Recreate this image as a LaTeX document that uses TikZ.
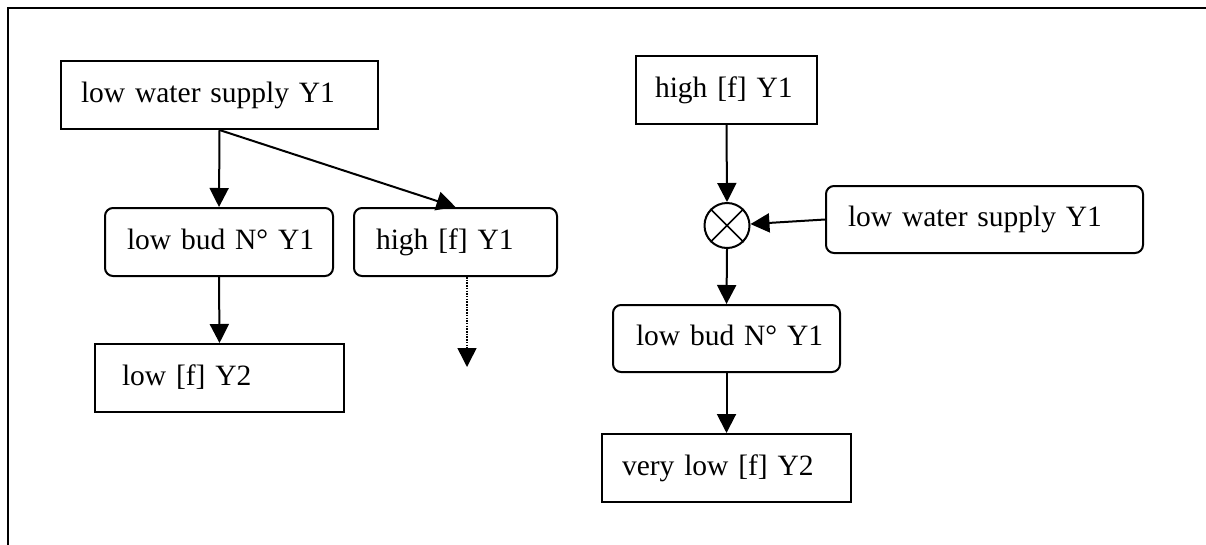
\documentclass[tikz,border=0pt]{standalone}
\usepackage{fontspec}
\setmainfont{Liberation Serif}
\usetikzlibrary{arrows.meta}
\tikzset{
  bx/.style={draw, line width=2pt, minimum height=68pt, inner ysep=0pt,
    text height=21pt, text depth=7pt, align=left,
    font=\fontsize{29.5}{36}\selectfont},
  rbx/.style={bx, rounded corners=8pt},
  arr/.style={line width=2pt, -{Triangle[width=19pt,length=19pt]}},
  darr/.style={line width=1.5pt, dash pattern=on 1.5pt off 1.2pt, -{Triangle[width=19pt,length=19pt]}},
  mult/.style={draw, circle, line width=2pt, minimum size=45pt, inner sep=0pt}
}
\begin{document}
\begin{tikzpicture}[x=1pt,y=-1pt]
\useasboundingbox (0,0) rectangle (1206,544);
\draw[line width=2pt] (7.5,560) -- (7.5,8) -- (1220,8);
% left
\node[bx, minimum width=317pt, text width=277pt, inner xsep=20pt] (A) at (219.5,95) {\mbox{low water supply Y1}};
\node[rbx, minimum width=228pt, text width=184pt, inner xsep=22pt] (B) at (219,242) {\mbox{low bud N° Y1}};
\node[rbx, minimum width=203pt, text width=159pt, inner xsep=22pt] (C) at (455.5,242) {\mbox{high [f] Y1}};
\node[bx, minimum width=249pt, text width=195pt, inner xsep=27pt] (D) at (219.5,378) {\mbox{low [f] Y2}};
\coordinate (Cend) at (467,367);
\draw[arr] (A.south) -- (B.north);
\draw[arr] (A.south) -- (C.north);
\draw[arr] (B.south) -- (D.north);
\draw[darr] (C.south -| Cend) -- (Cend);
% right
\node[bx, minimum width=181pt, text width=143pt, inner xsep=19pt] (E) at (726.5,90) {\mbox{high [f] Y1}};
\node[mult] (X) at (727,225.5) {};
\draw[line width=1.6pt] (X.45) -- (X.225) (X.135) -- (X.315);
\node[rbx, minimum width=317pt, text width=273pt, inner xsep=22pt, minimum height=67pt] (F) at (984.5,219.5) {\mbox{low water supply Y1}};
\node[rbx, minimum width=227pt, text width=181pt, inner xsep=23pt, minimum height=67pt] (G) at (726.5,338.5) {\mbox{low bud N° Y1}};
\node[bx, minimum width=249pt, text width=209pt, inner xsep=20pt] (H) at (726.5,468) {\mbox{very low [f] Y2}};
\draw[arr] (E.south) -- (X.north);
\draw[arr] (F.west) -- (X);
\draw[arr] (X.south) -- (G.north);
\draw[arr] (G.south) -- (H.north);
\end{tikzpicture}
\end{document}
